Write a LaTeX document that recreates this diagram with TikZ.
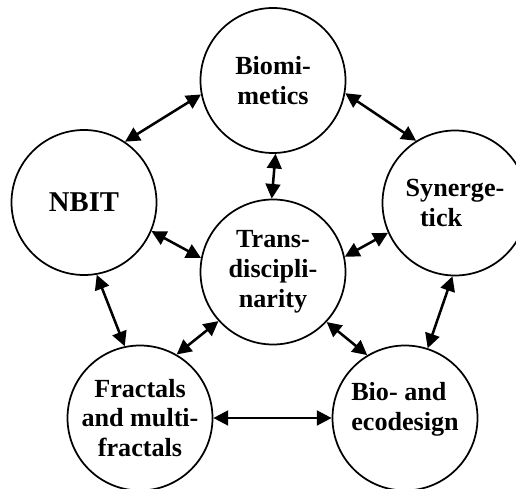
\documentclass[tikz,border=0pt]{standalone}
\usepackage{fontspec}
\setmainfont{Liberation Serif}
\usetikzlibrary{arrows.meta}

\begin{document}
\begin{tikzpicture}[x=0.75pt,y=0.75pt,
  topic/.style={circle,draw,line width=1.3pt,minimum size=108.75pt,inner sep=0pt,
    align=center,font=\fontsize{19.6}{22.3}\selectfont\bfseries},
  link/.style={<->,>={Triangle[length=11pt,width=11pt]},line width=1.9pt}]

  % fix the frame
  \useasboundingbox (0,0) rectangle (516,488);
  \clip (0,0) rectangle (516,488);

  % draw the circles
  \node[topic] (biomim) at (273,407.5) {Biomi-\\metics};
  \node[topic,font=\fontsize{21.5}{24}\selectfont\bfseries] (nbit) at (84,285.5) {NBIT};
  \node[topic,align=left] (syn) at (455,285) {Synerge-\\\hspace*{0.55em}tick};
  \node[topic] (trans) at (273,216) {Trans-\\discipli-\\narity};
  \node[topic] (fract) at (140,70) {Fractals\\and multi-\\fractals};
  \node[topic,align=left,text depth=17pt] (eco) at (405,70) {Bio- and\\ecodesign};

  % draw the arrows
  \foreach \a/\b in {biomim.191/nbit.56, biomim.350/syn.122, biomim.272/trans.91,
                     nbit.337/trans.169, trans.12/syn.204, nbit.280/fract.102,
                     syn.268/eco.72, trans.222/fract.60, trans.317/eco.121,
                     fract.east/eco.west}
    \draw[link] (\a) -- (\b);
\end{tikzpicture}
\end{document}
